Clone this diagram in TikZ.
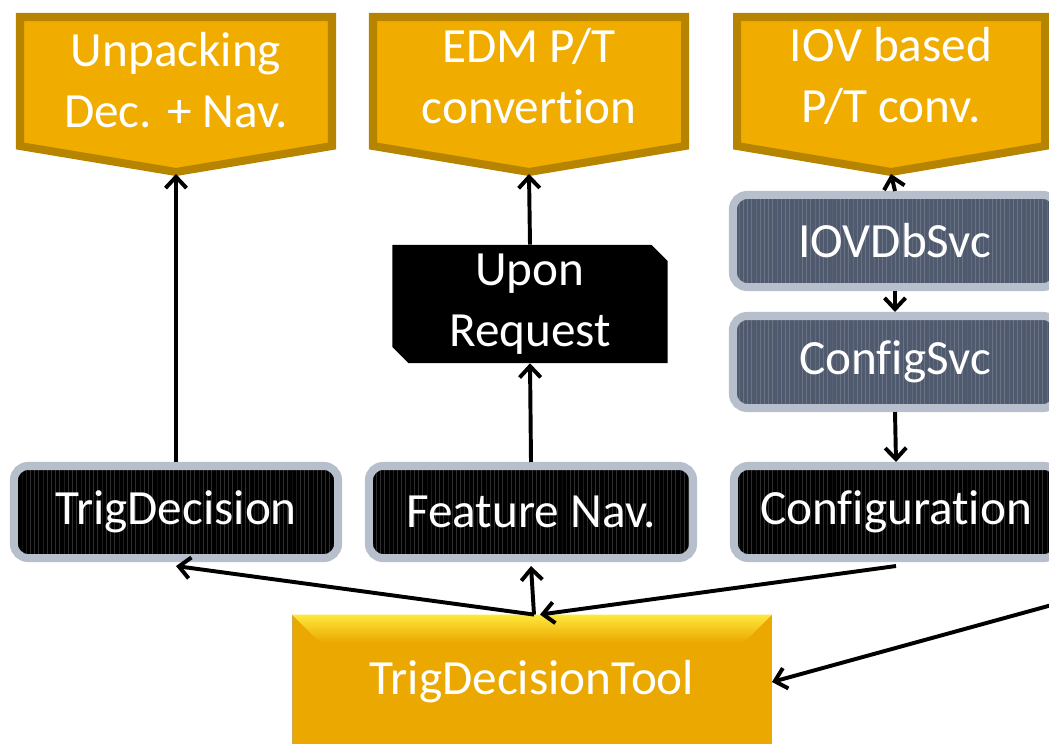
\documentclass[tikz,border=0pt]{standalone}
\usepackage{fontspec}
\setmainfont[Ligatures=NoCommon]{Carlito}
\usepackage{tikz}
\usetikzlibrary{arrows,arrows.meta,shapes.misc,patterns}

\definecolor{gold}{RGB}{240,173,0}
\definecolor{darkgold}{RGB}{183,132,0}
\definecolor{boxrim}{RGB}{184,191,204}
\definecolor{slate}{RGB}{80,90,110}
\definecolor{toolgold}{RGB}{234,168,0}
\definecolor{toolhi}{RGB}{255,232,60}

\tikzset{
	bigtext/.style={text=white, align=center, font=\fontsize{35}{43}\selectfont},
	pent/.style={fill=gold, draw=darkgold, line width=5.7pt},
	darkbox/.style={bigtext, draw=boxrim, line width=5.7pt, rounded corners=0.35cm,
		preaction={fill=black}, pattern=vertical lines, pattern color=black!82!white,
		minimum width=8.1cm, minimum height=2.3cm, inner sep=0pt},
	svcbox/.style={darkbox, preaction={fill=slate}, pattern color=slate!85!white},
	conn/.style={-{Straight Barb[length=8pt,width=15pt]}, line width=2.8pt}
}

\begin{document}
\begin{tikzpicture}[x=0.025cm, y=-0.025cm] % 1 unit = 1 px of the layout
	\useasboundingbox (0,0) rectangle (1049,743);
	\clip (0,0) rectangle (1049,743);

	% output boxes on top
	\draw[pent] (20,17) -- (332,17) -- (332,146) -- (176,172) -- (20,146) -- cycle;
	\coordinate (unpTip) at (176,174);
	\node[bigtext] (unp) at (176,80) {Unpacking\\Dec. + Nav.};
	\draw[pent] (373,17) -- (685,17) -- (685,146) -- (529,172) -- (373,146) -- cycle;
	\coordinate (edmTip) at (529,174);
	\node[bigtext] (edm) at (529,76) {EDM P/T\\convertion};
	\draw[pent] (737,17) -- (1045,17) -- (1045,146) -- (891,172) -- (737,146) -- cycle;
	\coordinate (iovTip) at (891,174);
	\node[bigtext] (iov) at (891,76) {IOV based\\P/T conv.};

	% middle row
	\node[bigtext, chamfered rectangle, chamfered rectangle corners={north east,south west},
		chamfered rectangle xsep=0.2cm, chamfered rectangle ysep=0.2cm, fill=black,
		minimum width=6.875cm, minimum height=2.95cm, inner sep=0pt] (upon) at (530,304) {Upon\\Request};
	\node[svcbox] (iovdb) at (895,241) {IOVDbSvc};
	\node[svcbox] (cfgsvc) at (895,362) {ConfigSvc};

	% row of tools
	\node[darkbox] (tdec) at (176,512) {TrigDecision};
	\node[darkbox] (fnav) at (531,512) {Feature Nav.};
	\node[darkbox] (config) at (896,512) {Configuration};

	% the tool itself
	\node[bigtext, fill=toolgold, draw=darkgold!70, line width=0.6pt,
		minimum width=11.975cm, minimum height=3.35cm, inner sep=0pt] (tool) at (532,682) {};
	\shade[top color=toolhi, bottom color=toolgold] (tool.north west) -- (tool.north east)
		-- ([xshift=-0.7cm,yshift=-0.7cm]tool.north east) -- ([xshift=0.7cm,yshift=-0.7cm]tool.north west) -- cycle;
	\node[bigtext] (toolname) at (tool) {TrigDecisionTool};
	\coordinate (offRight) at (1070,600);

	% connectors
	\draw[conn] (tdec.north) -- (unpTip);
	\draw[conn] (fnav.north) -- (upon.south);
	\draw[conn] (upon.north) -- (edmTip);
	\draw[conn] (iovdb.north) -- (iovTip);
	\draw[conn] (iovdb.south) -- (cfgsvc.north);
	\draw[conn] (cfgsvc.south) -- (config.north);
	\draw[conn] ([xshift=0.05cm]tool.north) -- ([yshift=-0.1cm]tdec.south);
	\draw[conn] ([xshift=0.05cm]tool.north) -- ([yshift=-0.1cm]fnav.south);
	\draw[conn] ([yshift=-0.1cm]config.south) -- ([xshift=0.2cm]tool.north);
	\draw[conn] (offRight) -- (tool.east);
\end{tikzpicture}
\end{document}
